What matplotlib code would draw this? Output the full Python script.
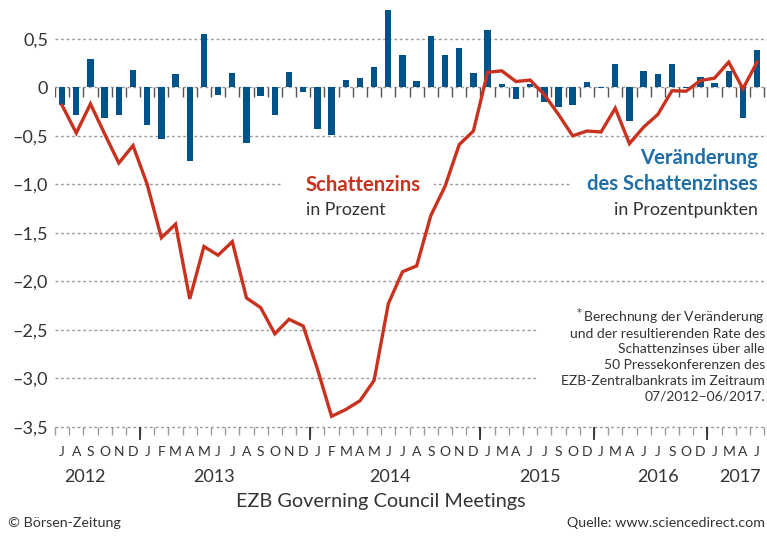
import matplotlib
matplotlib.use("Agg")
import matplotlib.pyplot as plt
from matplotlib.patches import Rectangle
import numpy as np

plt.rcParams['font.family'] = ['Lato', 'DejaVu Sans']

# Veränderung des Schattenzinses je Pressekonferenz (Prozentpunkte)
veraenderung = [-0.18, -0.28, 0.29, -0.32, -0.28, 0.18, -0.39, -0.53, 0.14, -0.76,
                0.545, -0.08, 0.15, -0.575, -0.09, -0.28, 0.16, -0.05, -0.43, -0.49,
                0.08, 0.10, 0.21, 0.80, 0.335, 0.07, 0.53, 0.335, 0.41, 0.15,
                0.59, 0.03, -0.115, 0.03, -0.155, -0.205, -0.185, 0.06, -0.01, 0.245,
                -0.35, 0.17, 0.14, 0.245, -0.01, 0.11, 0.04, 0.17, -0.32, 0.385]

# Schattenzins in Prozent
schattenzins = [-0.185, -0.47, -0.17, -0.48, -0.78, -0.60, -1.00, -1.55, -1.41, -2.18,
                -1.64, -1.73, -1.59, -2.17, -2.27, -2.54, -2.39, -2.46, -2.90, -3.39,
                -3.32, -3.23, -3.02, -2.23, -1.90, -1.84, -1.32, -1.02, -0.59, -0.45,
                0.155, 0.17, 0.06, 0.075, -0.075, -0.28, -0.50, -0.45, -0.46, -0.215,
                -0.58, -0.41, -0.28, -0.035, -0.04, 0.07, 0.095, 0.26, -0.015, 0.26]

monate = (list("JASOND") + list("JFMAMJJASOND") + list("JFMAMJJASOND")
          + list("JMAJJSOD") + list("JMAJJSOD") + list("JMAJ"))
jahre = ['2012', '2013', '2014', '2015', '2016', '2017']
meetings_pro_jahr = [6, 12, 12, 8, 8, 4]
jahr_label_pos = [1.6, 10.7, 23.1, 33.7, 42.0, 47.8]

yticks = [0.5, 0, -0.5, -1.0, -1.5, -2.0, -2.5, -3.0, -3.5]

BLAU = '#00528a'
ROT = '#c8321e'
TEXTBLAU = '#1f6ea6'
GRAU = '#333333'

W, H = 767, 536
fig = plt.figure(figsize=(W / 100, H / 100), dpi=100)
ax = fig.add_axes([55 / W, 109 / H, 712 / W, 427 / H])

x = np.arange(len(veraenderung))
ax.set_xlim(-0.5, 49.7)
ax.set_ylim(-3.5, 0.9)

# gestrichelte Hilfslinien
for yv in yticks:
    ax.axhline(yv, color='#9a9a9a', lw=1, ls=(0, (2, 2)), zorder=0, clip_on=False)

# weiße Flächen hinter den Beschriftungen
for (x0, x1, y0, y1) in [(15.5, 26.2, -1.4, -0.6), (35.8, 49.8, -1.4, -0.56),
                         (33.5, 49.8, -3.3, -2.15)]:
    ax.add_patch(Rectangle((x0, y0), x1 - x0, y1 - y0, facecolor='white',
                           edgecolor='none', zorder=1))

ax.bar(x, veraenderung, width=0.45, color=BLAU, zorder=2)
ax.plot(x, schattenzins, color=ROT, lw=2.4, zorder=3, solid_joinstyle='miter')

# Striche an der Nulllinie
grenzen = np.arange(len(x) + 1) - 0.5
ax.vlines(grenzen, 0, -0.1, color='#555555', lw=1, zorder=2)

# Striche unten
trans = ax.get_xaxis_transform()
jahresgrenzen = np.cumsum(meetings_pro_jahr)[:-1] - 0.5
ax.vlines(grenzen, 0, -0.019, color='#9a9a9a', lw=1, transform=trans, clip_on=False)
ax.vlines(jahresgrenzen, 0, -0.031, color='#222222', lw=1.2, transform=trans, clip_on=False)

for s in ax.spines.values():
    s.set_visible(False)
ax.set_xticks(x)
ax.set_xticklabels(monate, fontsize=10, color=GRAU)
ax.tick_params(axis='x', length=0, pad=14)
ax.set_yticks(yticks)
ax.set_yticklabels([('\u2013' if v < 0 else '') + ('%.1f' % abs(v)).replace('.', ',') if v != 0 else '0'
                    for v in yticks], fontsize=13, color=GRAU)
ax.tick_params(axis='y', length=0, pad=5)

for j, p in zip(jahre, jahr_label_pos):
    ax.text(p, -0.118, j, transform=trans, ha='center', va='center', fontsize=13, color=GRAU)

ax.text(381 / W, 1 - 501 / H, 'EZB Governing Council Meetings', transform=fig.transFigure,
        ha='center', va='center', fontsize=14.3, color=GRAU)
fig.text(8 / W, 1 - 523 / H, '\u00a9 B\u00f6rsen-Zeitung', ha='left', va='center',
         fontsize=10.3, color=GRAU)
fig.text(765 / W, 1 - 523 / H, 'Quelle: www.sciencedirect.com', ha='right', va='center',
         fontsize=10.3, color=GRAU)

# Legendentexte
fig.text(306 / W, 1 - 191 / H, 'Schattenzins', ha='left', va='baseline',
         fontsize=14.6, fontweight='bold', color=ROT)
fig.text(306 / W, 1 - 215 / H, 'in Prozent', ha='left', va='baseline',
         fontsize=12.8, color=GRAU)
fig.text(758 / W, 1 - 164 / H, 'Veränderung', ha='right', va='baseline',
         fontsize=14.6, fontweight='bold', color=TEXTBLAU)
fig.text(758 / W, 1 - 190.5 / H, 'des Schattenzinses', ha='right', va='baseline',
         fontsize=14.6, fontweight='bold', color=TEXTBLAU)
fig.text(758 / W, 1 - 215 / H, 'in Prozentpunkten', ha='right', va='baseline',
         fontsize=12.8, color=GRAU)

fussnote = ['$^*$Berechnung der Veränderung', 'und der resultierenden Rate des',
            'Schattenzinses über alle', '50 Pressekonferenzen des',
            'EZB-Zentralbankrats im Zeitraum', '07/2012\u201306/2017.']
for i, z in enumerate(fussnote):
    fig.text(765 / W, 1 - (321.7 + i * 15.8) / H, z, ha='right', va='baseline',
             fontsize=10, color=GRAU)

fig.savefig('out.png', dpi=100)
